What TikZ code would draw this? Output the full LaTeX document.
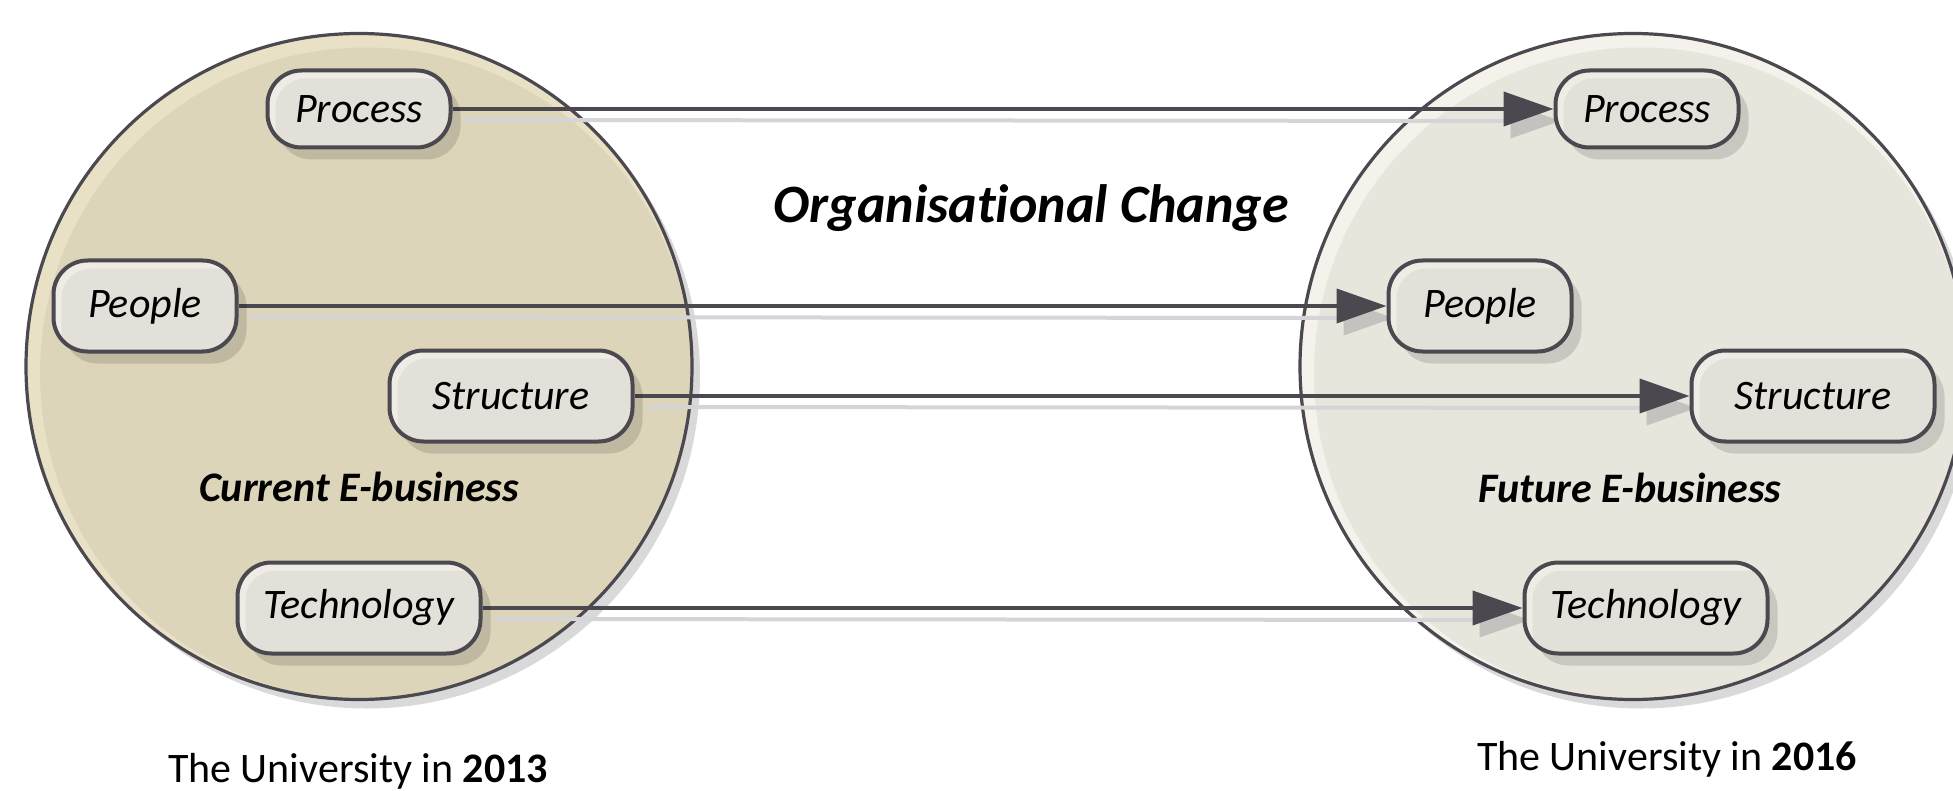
\documentclass[tikz,border=0pt]{standalone}
\usepackage{fontspec}
\setmainfont{Carlito}[Ligatures=NoCommon]
\usetikzlibrary{arrows.meta,shadows}
\definecolor{edge}{HTML}{4B494F}
\definecolor{lrim}{HTML}{E8E1C6}
\definecolor{lmain}{HTML}{DDD5BA}
\definecolor{rrim}{HTML}{F4F2EA}
\definecolor{rmain}{HTML}{E8E5DD}
\definecolor{boxrim}{HTML}{EEECE4}
\definecolor{boxmain}{HTML}{E2E0D8}
\definecolor{shline}{HTML}{D5D5D7}
\definecolor{shtip}{HTML}{C4C2BE}
\pgfdeclarelayer{back}
\pgfdeclarelayer{mid}
\pgfsetlayers{back,mid,main}
\begin{document}
\begin{tikzpicture}[x=0.5pt,y=-0.5pt,
  bigcirc/.style={circle, draw=edge, line width=1.6pt, minimum size=333pt, inner sep=0pt,
    drop shadow={shadow xshift=4pt, shadow yshift=-4.5pt, fill=black, opacity=0.15}},
  box/.style={draw=edge, line width=2pt, rounded corners=17pt, fill=boxrim,
    font=\itshape\fontsize{21}{25}\selectfont, inner sep=0pt,
    drop shadow={shadow xshift=5pt, shadow yshift=-6pt, fill=black, opacity=0.13},
    path picture={\fill[boxmain, rounded corners=15pt]
      ([xshift=4pt,yshift=-4pt]path picture bounding box.north west) rectangle
      ([xshift=4pt,yshift=-4pt]path picture bounding box.south east);}},
  shortbox/.style={box, minimum width=91.5pt, minimum height=38.5pt},
  midbox/.style={box, minimum width=91.5pt, minimum height=45.5pt},
  widebox/.style={box, minimum width=121.5pt, minimum height=45.5pt},
  arr/.style={draw=edge, line width=2pt, -{Triangle[length=25pt,width=17pt]}},
  arrsh/.style={draw=shline, line width=2pt, -{Triangle[length=25pt,width=17pt,color=shtip]}},
  lbl/.style={font=\bfseries\itshape\fontsize{21}{25}\selectfont, anchor=base},
  yearlbl/.style={font=\fontsize{21}{25}\selectfont, anchor=base}
]
\useasboundingbox (0,0) rectangle (1953,791);

\begin{pgfonlayer}{back}
\fill[white] (0,0) rectangle (1953,791);
\node[bigcirc, fill=lrim,
  path picture={\fill[lmain] ([xshift=3.5pt,yshift=-3.5pt]path picture bounding box.center) circle[radius=326];}]
  (lc) at (359,366.5) {};
\node[bigcirc, fill=rrim,
  path picture={\fill[rmain] ([xshift=3.5pt,yshift=-3.5pt]path picture bounding box.center) circle[radius=326];}]
  (rc) at (1633,366.5) {};
\end{pgfonlayer}

% left boxes
\node[shortbox] (lp) at (359,109) {Process};
\node[midbox]   (lpe) at (145,306) {People};
\node[widebox]  (ls) at (511,396) {Structure};
\node[widebox]  (lt) at (359,608) {Technology};
% right boxes
\node[shortbox] (rp) at (1647,109) {Process};
\node[midbox]   (rpe) at (1480,306) {People};
\node[widebox]  (rs) at (1813,396) {Structure};
\node[widebox]  (rt) at (1646,608) {Technology};

\node[lbl] (cur) at (359,501) {Current E-business};
\node[lbl] (fut) at (1630,502) {Future E-business};
\node[font=\bfseries\itshape\fontsize{27}{32}\selectfont, anchor=base] (org) at (1031,223) {Organisational Change};
\node[yearlbl] (u13) at (358,782) {The University in \textbf{2013}};
\node[yearlbl] (u16) at (1667,770) {The University in \textbf{2016}};

\begin{pgfonlayer}{mid}
\foreach \a/\b in {lp/rp, lpe/rpe, ls/rs, lt/rt}{
  \draw[arrsh] ([shift={(12,11)}]\a.east) -- ([shift={(7,12)}]\b.west);
}
\foreach \a/\b in {lp/rp, lpe/rpe, ls/rs, lt/rt}{
  \draw[arr] (\a.east) -- (\b.west);
}
\end{pgfonlayer}
\end{tikzpicture}
\end{document}
